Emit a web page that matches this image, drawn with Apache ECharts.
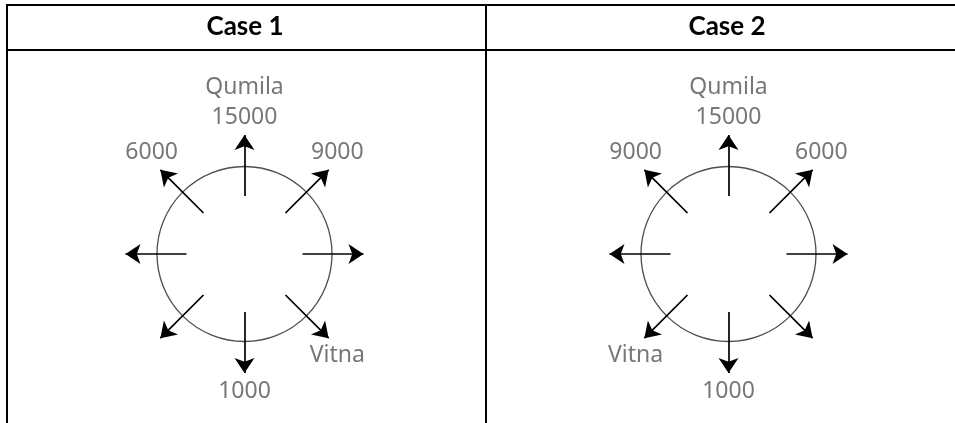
<!DOCTYPE html>
<html>
<head>
<meta charset="utf-8">
<script src="https://cdn.jsdelivr.net/npm/echarts@6/dist/echarts.min.js"></script>
<style>
  html, body { margin: 0; padding: 0; background: #fff; }
  #main { width: 955px; height: 423px; }
</style>
</head>
<body>
<div id="main"></div>
<script>
// eight directions round the circle, in degrees (0 = east, counter-clockwise)
var directions = ['N', 'NE', 'E', 'SE', 'S', 'SW', 'W', 'NW'];
var angles = [90, 45, 0, -45, -90, -135, 180, 135];
// label written at the end of each arrow ('' = none)
var case1Labels = ['15000', '9000', '', 'Vitna', '1000', '', '', '6000'];
var case2Labels = ['15000', '6000', '', '', '1000', 'Vitna', '', '9000'];
// name written above the north label
var topName = 'Qumila';
var caseTitles = ['Case 1', 'Case 2'];

var chart = echarts.init(document.getElementById('main'));

// radii in axis units (1 unit = 1px)
var R_CIRCLE = 87.5, R_IN = 58, R_OUT = 119, R_LABEL = 137, R_NAME = 167;

function polar(r, deg) {
    var a = deg * Math.PI / 180;
    return [r * Math.cos(a), r * Math.sin(a)];
}

function buildSeries(idx, labels) {
    var arrows = angles.map(function (deg) {
        return {coords: [polar(R_IN, deg), polar(R_OUT, deg)]};
    });
    var texts = [];
    labels.forEach(function (t, i) {
        if (!t) return;
        var p = polar(1, angles[i]);
        var sx = Math.round(p[0]), sy = Math.round(p[1]);
        // diagonal labels sit a bit more above / below the arrow tip
        var off = (sx && sy) ? [-4 * sx, -5 * sy] : [0, 0];
        texts.push({value: polar(R_LABEL, angles[i]), name: t, label: {offset: off}});
    });
    var labelStyle = {
        show: true, position: 'inside', formatter: '{b}',
        fontFamily: 'Noto Sans', fontSize: 23, color: '#555'
    };
    return [
        {
            type: 'scatter', xAxisIndex: idx, yAxisIndex: idx, silent: true,
            symbol: 'circle', symbolSize: R_CIRCLE * 2,
            itemStyle: {color: 'rgba(0,0,0,0)', borderColor: '#222', borderWidth: 1.3},
            data: [[0, 0]], z: 2
        },
        {
            type: 'lines', coordinateSystem: 'cartesian2d', xAxisIndex: idx, yAxisIndex: idx,
            silent: true, symbol: ['none', 'arrow'], symbolSize: 15,
            lineStyle: {color: '#000', width: 1.7, opacity: 1},
            data: arrows, z: 3
        },
        {
            type: 'scatter', xAxisIndex: idx, yAxisIndex: idx, silent: true,
            symbolSize: 0, data: texts, label: labelStyle
        },
        {
            type: 'scatter', xAxisIndex: idx, yAxisIndex: idx, silent: true,
            symbolSize: 0, data: [{value: polar(R_NAME, angles[0]), name: topName}],
            label: labelStyle
        }
    ];
}

var centers = [244.5, 728.5];

chart.setOption({
    animation: false,
    grid: centers.map(function (cx) {
        return {left: cx - 180, top: 254 - 180, width: 360, height: 345, outerBoundsMode: 'none'};
    }),
    xAxis: [0, 1].map(function (i) {
        return {gridIndex: i, type: 'value', min: -180, max: 180, show: false};
    }),
    yAxis: [0, 1].map(function (i) {
        return {gridIndex: i, type: 'value', min: -165, max: 180, show: false};
    }),
    graphic: [
        // table lines
        {type: 'line', shape: {x1: 6, y1: 5, x2: 960, y2: 5}, style: {stroke: '#000', lineWidth: 2}},
        {type: 'line', shape: {x1: 6, y1: 50, x2: 960, y2: 50}, style: {stroke: '#000', lineWidth: 2}},
        {type: 'line', shape: {x1: 7, y1: 4, x2: 7, y2: 430}, style: {stroke: '#000', lineWidth: 2}},
        {type: 'line', shape: {x1: 486, y1: 4, x2: 486, y2: 430}, style: {stroke: '#000', lineWidth: 2}},
        {type: 'text', style: {
            text: caseTitles[0], x: 245, y: 27, textAlign: 'center', textVerticalAlign: 'middle',
            font: 'bold 26px Lato', fill: '#000'}},
        {type: 'text', style: {
            text: caseTitles[1], x: 727, y: 27, textAlign: 'center', textVerticalAlign: 'middle',
            font: 'bold 26px Lato', fill: '#000'}}
    ],
    series: buildSeries(0, case1Labels).concat(buildSeries(1, case2Labels))
});
</script>
</body>
</html>
